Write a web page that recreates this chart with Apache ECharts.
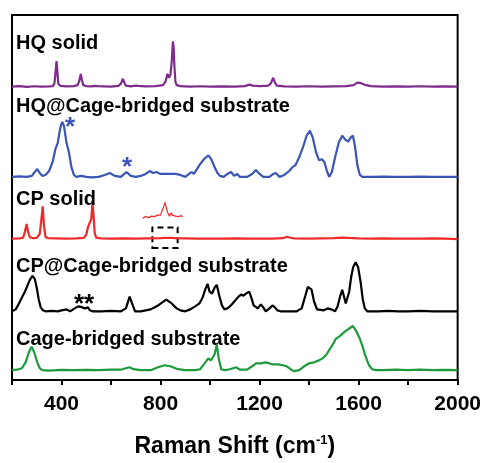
<!DOCTYPE html>
<html>
<head>
<meta charset="utf-8">
<script src="https://cdn.jsdelivr.net/npm/echarts@6/dist/echarts.min.js"></script>
<style>
html,body{margin:0;padding:0;background:#fff;}
#chart{width:484px;height:463px;}
</style>
</head>
<body>
<div id="chart"></div>
<script>
// ---- Data (Raman shift cm-1, relative intensity) ----
const xTicks = [400, 800, 1200, 1600, 2000];
const labels = ['HQ solid', 'HQ@Cage-bridged substrate', 'CP solid', 'CP@Cage-bridged substrate', 'Cage-bridged substrate'];

const hqSolid = [[200,0],[230,0.5],[260,-0.3],[290,0.4],[320,0],[350,0.3],[365,0.5],[372,4],[377,18],[380,26],[383,16],[387,3],[395,0.8],[420,0.3],[450,0.5],[465,1.5],[472,6],[478,13],[482,7],[488,1.5],[500,0.5],[520,0.3],[535,0.8],[541,2.5],[547,0.5],[570,0.3],[600,0],[630,0.8],[640,3],[648,8],[654,4],[660,1],[680,0.3],[700,1],[705,3],[710,0.8],[740,0.3],[780,0.5],[810,1.5],[820,5],[828,13],[834,9],[840,12],[845,25],[850,46],[853,40],[856,21],[860,5],[865,1.5],[880,0.5],[920,0],[960,0.4],[1000,0],[1050,0.3],[1100,0],[1140,0.5],[1160,2],[1165,3],[1172,1],[1200,0.5],[1235,1],[1245,3],[1255,9],[1262,4],[1270,1],[1300,0.3],[1350,0],[1400,0.4],[1450,0],[1500,0.3],[1550,0.5],[1580,1.5],[1595,4],[1603,5],[1610,3.5],[1618,5],[1630,1.5],[1650,0.5],[1700,0],[1750,0.3],[1800,0],[1850,0.4],[1900,0],[1950,0.3],[2000,0]];

const hqCage = [[200,0],[230,0.5],[260,0],[280,1],[292,5],[302,8],[312,4],[322,1],[335,2],[350,6],[365,16],[375,28],[385,35],[395,50],[403,56],[410,52],[420,35],[430,25],[440,10],[450,2],[460,0],[480,1],[500,0],[520,-0.5],[550,0],[575,2],[595,4],[615,1],[640,0],[662,5],[680,1],[700,0],[720,1],[740,3],[756,6],[770,4],[783,5],[800,3],[830,3],[860,3],[880,2],[900,0],[915,3],[925,5],[935,3],[957,12],[975,18],[993,22],[1005,18],[1020,9],[1030,4],[1040,1],[1055,0],[1070,3],[1085,5],[1097,1],[1110,3],[1120,0],[1150,0],[1170,3],[1185,7],[1200,3],[1215,0],[1240,0],[1255,3],[1266,4],[1280,0],[1300,2],[1320,6],[1333,10],[1345,12],[1360,20],[1375,30],[1390,42],[1403,47],[1415,40],[1428,25],[1440,17],[1452,18],[1462,15],[1472,6],[1481,0],[1492,5],[1505,20],[1520,35],[1534,42],[1546,38],[1558,36],[1568,40],[1577,42],[1585,32],[1595,12],[1605,2],[1615,0],[1650,0],[1700,0.3],[1750,0],[1800,0],[1850,0.3],[1900,0],[2000,0]];

const cpSolid = [[200,0],[230,0.3],[245,1],[252,7],[259,15],[265,7],[272,1.5],[285,0.5],[300,0.8],[312,5],[318,18],[324,33],[329,14],[335,2],[345,0.5],[380,0.3],[420,0],[460,0.3],[490,0.8],[500,4],[507,12],[512,10],[520,20],[525,36],[529,25],[534,6],[540,1],[560,0.3],[600,0],[650,0.3],[700,0],[750,0.3],[800,0.5],[830,1],[860,0.5],[900,0.3],[950,0],[1000,0.2],[1050,0],[1100,0.3],[1150,0],[1200,0.2],[1250,0],[1295,0.5],[1310,2],[1317,3],[1324,1],[1340,0.3],[1400,0],[1450,0.3],[1500,0.6],[1530,1.2],[1560,0.8],[1600,0.3],[1650,0],[1700,0.3],[1750,0],[1800,0.2],[1850,0],[1900,0.3],[1950,0],[2000,-0.5]];

// magnified view of the boxed CP solid region (displayed above it)
const cpInset = [[728,1],[732,2],[736,0],[740,2.5],[744,1],[748,3],[752,1.5],[756,2],[760,0.5],[764,3],[768,2],[772,4],[776,2.5],[780,3],[784,1.5],[788,4],[792,3],[796,5.5],[800,4],[804,7],[808,9],[812,12],[815,14],[818,17],[821,15],[824,11],[828,7],[832,5],[836,3],[840,5],[844,6.5],[848,4],[852,2],[856,5],[860,3],[864,1],[868,4],[872,2.5],[876,4.5],[880,2],[884,3.5],[889,2]];

const cpCage = [[200,0],[215,2],[228,8],[240,14],[252,20],[262,26],[272,32],[283,36],[292,33],[300,24],[308,12],[316,4],[325,1],[335,0],[360,0.5],[385,0],[400,1],[420,2],[435,0],[450,2.5],[467,5],[480,4.5],[495,3],[507,4],[515,1],[525,0],[560,0],[600,0.5],[640,0],[660,3],[675,15],[688,6],[697,0],[720,0],[760,2],[790,6],[823,12],[845,8],[865,3],[880,1],[900,0],[920,2],[940,5],[957,8],[970,14],[980,22],[990,28],[998,20],[1008,18],[1018,24],[1027,27],[1037,16],[1048,6],[1058,2],[1070,3],[1080,5],[1091,8],[1105,12],[1115,15],[1125,17],[1135,16],[1145,18],[1158,20],[1168,13],[1176,6],[1184,5],[1193,3],[1205,7],[1215,4],[1225,0],[1240,3],[1252,6],[1262,4],[1272,1],[1285,0],[1320,0],[1350,0],[1370,3],[1385,16],[1395,25],[1400,27],[1410,22],[1420,10],[1432,2],[1440,0],[1460,1],[1475,3],[1481,5],[1490,2],[1505,0],[1515,5],[1525,15],[1534,22],[1541,15],[1548,8],[1555,7],[1562,20],[1570,35],[1578,45],[1588,50],[1598,45],[1608,30],[1617,12],[1625,3],[1635,0],[1680,0],[1720,0.5],[1760,0],[1800,0],[1850,0.5],[1900,0],[1950,0],[2000,0]];

const cage = [[200,0],[220,0.5],[240,2],[255,8],[268,18],[279,24],[290,18],[302,8],[312,2],[322,0],[350,-0.5],[400,0.3],[450,0],[500,0.3],[550,0],[600,0.5],[640,0.5],[660,2],[675,3],[690,1],[720,0],[760,0],[790,3],[816,5],[840,4],[870,1],[900,0],[940,0],[960,1],[975,6],[993,12],[1003,10],[1011,8],[1018,16],[1027,26],[1035,12],[1045,1],[1060,0],[1080,1],[1105,3],[1120,0.5],[1150,0.5],[1170,4],[1185,7],[1205,7],[1226,8],[1250,6],[1275,6],[1293,5],[1310,4],[1325,1],[1340,-1],[1360,0],[1380,4],[1400,7],[1420,8],[1440,10],[1454,12],[1470,16],[1485,22],[1500,28],[1508,32],[1525,35],[1548,40],[1565,43],[1577,45],[1590,40],[1605,32],[1615,25],[1628,14],[1642,5],[1655,1],[1670,0],[1700,0],[1750,0.5],[1800,0],[1850,0.5],[1900,0],[1950,0.3],[2000,0]];

// vertical stacking offsets of each trace
const offsets = {hqSolid: 299, hqCage: 207, cpSolid: 144, cpInset: 164, cpCage: 70, cage: 10};

function shift(arr, off) { return arr.map(p => [p[0], p[1] + off]); }

const FONT = '"Liberation Sans", Arial, sans-serif';
const chart = echarts.init(document.getElementById('chart'));

function lineSeries(data, off, color, width) {
  return {
    type: 'line', data: shift(data, off), showSymbol: false, symbol: 'none',
    lineStyle: {color: color, width: width}, animation: false, silent: true, z: 3
  };
}

const cpSeries = lineSeries(cpSolid, offsets.cpSolid, '#ee2a2a', 2.2);
cpSeries.markArea = {
  silent: true,
  itemStyle: {color: 'rgba(0,0,0,0)', borderColor: '#000', borderWidth: 2, borderType: [6, 4]},
  data: [[{xAxis: 767, yAxis: 134.5}, {xAxis: 869, yAxis: 155.5}]]
};

const labelY = [44, 107, 200, 267, 340];

chart.setOption({
  animation: false,
  grid: {left: 12, right: 25, top: 15, bottom: 76, show: true, borderColor: '#000', borderWidth: 2, containLabel: false},
  xAxis: {
    type: 'value', min: 200, max: 2000, interval: 200,
    axisLine: {show: true, lineStyle: {color: '#000', width: 2}},
    axisTick: {show: true, length: 5, inside: false, lineStyle: {color: '#000', width: 2}},
    splitLine: {show: false},
    axisLabel: {
      margin: 14, color: '#000', fontSize: 21, fontWeight: 'bold', fontFamily: FONT,
      formatter: v => (xTicks.indexOf(v) >= 0 ? String(v) : '')
    },
    name: '{a|Raman Shift (cm}{s|-1}{a|)}',
    nameLocation: 'middle', nameGap: 54,
    nameTextStyle: {
      rich: {
        a: {fontSize: 23, fontWeight: 'bold', fontFamily: FONT, color: '#000'},
        s: {fontSize: 13, fontWeight: 'bold', fontFamily: FONT, color: '#000', verticalAlign: 'top', padding: [0, 0, 12, 0]}
      }
    }
  },
  yAxis: {
    type: 'value', min: 0, max: 372,
    axisLine: {show: false}, axisTick: {show: false}, axisLabel: {show: false}, splitLine: {show: false}
  },
  series: [
    lineSeries(hqSolid, offsets.hqSolid, '#7e2b8c', 2.2),
    lineSeries(hqCage, offsets.hqCage, '#3a55b4', 2.2),
    cpSeries,
    lineSeries(cpInset, offsets.cpInset, '#ee2a2a', 1.2),
    lineSeries(cpCage, offsets.cpCage, '#000000', 2.2),
    lineSeries(cage, offsets.cage, '#1e9a3c', 2.2)
  ],
  graphic: labels.map((t, i) => ({
    type: 'text', left: 16, top: labelY[i] - 11, z: 10, silent: true,
    style: {text: t, fontSize: 20, fontWeight: 'bold', fontFamily: FONT, fill: '#000'}
  })).concat([
    {type: 'text', x: 70, y: 128, z: 10, silent: true, style: {text: '*', fontSize: 26, fontWeight: 'bold', fontFamily: FONT, fill: '#3a55b4', align: 'center', verticalAlign: 'middle'}},
    {type: 'text', x: 127, y: 168, z: 10, silent: true, style: {text: '*', fontSize: 26, fontWeight: 'bold', fontFamily: FONT, fill: '#3a55b4', align: 'center', verticalAlign: 'middle'}},
    {type: 'text', x: 84, y: 305, z: 10, silent: true, style: {text: '**', fontSize: 26, fontWeight: 'bold', fontFamily: FONT, fill: '#000', align: 'center', verticalAlign: 'middle'}}
  ])
});
</script>
</body>
</html>
